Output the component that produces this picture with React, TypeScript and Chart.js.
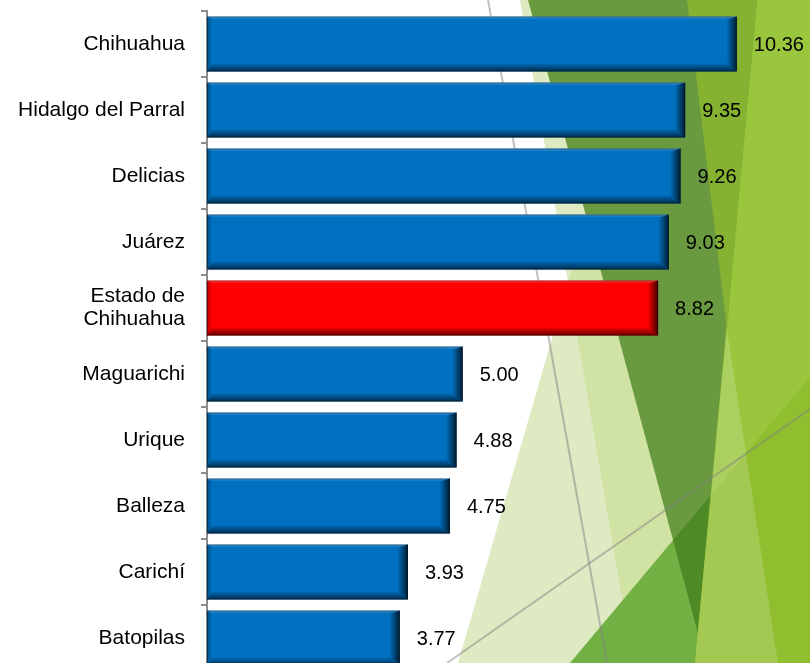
import React, { useEffect, useRef } from "react";
import { Chart, registerables } from "chart.js";

Chart.register(...registerables);

const categories: (string | string[])[] = [
  "Chihuahua",
  "Hidalgo del Parral",
  "Delicias",
  "Juárez",
  ["Estado de", "Chihuahua"],
  "Maguarichi",
  "Urique",
  "Balleza",
  "Carichí",
  "Batopilas",
];
const values: number[] = [10.36, 9.35, 9.26, 9.03, 8.82, 5.0, 4.88, 4.75, 3.93, 3.77];
const highlightIndex = 4;

const FONT = '"Liberation Sans", Arial, Helvetica, sans-serif';

type Pt = [number, number];
function poly(ctx: CanvasRenderingContext2D, pts: Pt[]) {
  ctx.beginPath();
  pts.forEach((p, i) => (i === 0 ? ctx.moveTo(p[0], p[1]) : ctx.lineTo(p[0], p[1])));
  ctx.closePath();
}

const backgroundPlugin = {
  id: "facetBackground",
  beforeDraw(chart: any) {
    const ctx: CanvasRenderingContext2D = chart.ctx;
    ctx.save();
    ctx.fillStyle = "#ffffff";
    ctx.fillRect(0, 0, chart.width, chart.height);
    const P1: Pt[] = [[458, 663], [650, 0], [810, 0], [810, 663]];
    const P2: Pt[] = [[520, 0], [810, 0], [810, 663], [633, 663]];
    const G: Pt[] = [[570, 663], [810, 377], [810, 663]];
    const M: Pt[] = [[528, 0], [810, 0], [810, 663], [706, 663]];
    const B: Pt[] = [[757, 0], [810, 0], [810, 663], [695, 663]];
    const strip: Pt[] = [[727, 330], [695, 663], [778, 663]];
    const olive: Pt[] = [[687, 0], [757, 0], [727, 330]];

    ctx.fillStyle = "#DDEAC2";
    poly(ctx, P1); ctx.fill();
    poly(ctx, P2); ctx.fill();
    ctx.save(); poly(ctx, P1); ctx.clip();
    ctx.fillStyle = "#D0E2A4"; poly(ctx, P2); ctx.fill();
    ctx.restore();

    ctx.fillStyle = "#72B043"; poly(ctx, G); ctx.fill();
    ctx.fillStyle = "#6A9A40"; poly(ctx, M); ctx.fill();
    ctx.save(); poly(ctx, M); ctx.clip();
    ctx.fillStyle = "#4E8A25"; poly(ctx, G); ctx.fill();
    ctx.restore();

    ctx.fillStyle = "#9AC63E"; poly(ctx, B); ctx.fill();
    ctx.save(); poly(ctx, B); ctx.clip();
    ctx.fillStyle = "#8FBE2E"; poly(ctx, G); ctx.fill();
    ctx.restore();
    ctx.fillStyle = "rgba(255,255,255,0.18)"; poly(ctx, strip); ctx.fill();
    ctx.fillStyle = "#86B232"; poly(ctx, olive); ctx.fill();

    ctx.strokeStyle = "rgba(130,130,130,0.5)";
    ctx.lineWidth = 2;
    ctx.beginPath(); ctx.moveTo(488, 0); ctx.lineTo(607, 663); ctx.stroke();
    ctx.beginPath(); ctx.moveTo(447, 663); ctx.lineTo(810, 409); ctx.stroke();
    ctx.restore();
  },
};

const bevelPlugin = {
  id: "bevelBars",
  afterDatasetsDraw(chart: any) {
    const ctx: CanvasRenderingContext2D = chart.ctx;
    const meta = chart.getDatasetMeta(0);
    meta.data.forEach((bar: any, i: number) => {
      const p = bar.getProps(["x", "y", "base", "height"], true);
      const L = Math.min(p.base, p.x);
      const R = Math.max(p.base, p.x);
      const T = p.y - p.height / 2;
      const Bt = p.y + p.height / 2;
      const bw = 10, bb = 8, bl = 5, bt = 3;
      ctx.save();
      let g = ctx.createLinearGradient(R - bw, 0, R, 0);
      g.addColorStop(0, "rgba(0,0,0,0.05)");
      g.addColorStop(1, "rgba(0,0,0,0.75)");
      ctx.fillStyle = g;
      poly(ctx, [[R, T], [R, Bt], [R - bw, Bt - bb], [R - bw, T + bt]]);
      ctx.fill();
      g = ctx.createLinearGradient(0, Bt - bb, 0, Bt);
      g.addColorStop(0, "rgba(0,0,0,0.05)");
      g.addColorStop(1, "rgba(0,0,0,0.6)");
      ctx.fillStyle = g;
      poly(ctx, [[L, Bt], [R, Bt], [R - bw, Bt - bb], [L + bl, Bt - bb]]);
      ctx.fill();
      g = ctx.createLinearGradient(L, 0, L + bl, 0);
      g.addColorStop(0, "rgba(0,0,0,0.3)");
      g.addColorStop(1, "rgba(0,0,0,0)");
      ctx.fillStyle = g;
      poly(ctx, [[L, T], [L, Bt], [L + bl, Bt - bb], [L + bl, T + bt]]);
      ctx.fill();
      g = ctx.createLinearGradient(0, T, 0, T + bt);
      g.addColorStop(0, "rgba(255,255,255,0.3)");
      g.addColorStop(1, "rgba(255,255,255,0)");
      ctx.fillStyle = g;
      poly(ctx, [[L, T], [R, T], [R - bw, T + bt], [L + bl, T + bt]]);
      ctx.fill();
      ctx.strokeStyle = "rgba(0,0,0,0.35)";
      ctx.lineWidth = 1;
      ctx.strokeRect(L + 0.5, T + 0.5, R - L - 1, Bt - T - 1);
      ctx.fillStyle = "#000000";
      ctx.font = `20px ${FONT}`;
      ctx.textAlign = "left";
      ctx.textBaseline = "middle";
      ctx.fillText(values[i].toFixed(2), R + 17, p.y + 1);
      ctx.restore();
    });
  },
};

export default function App() {
  const ref = useRef<HTMLCanvasElement | null>(null);
  useEffect(() => {
    if (!ref.current) return;
    const chart = new Chart(ref.current, {
      type: "bar",
      data: {
        labels: categories as any,
        datasets: [
          {
            data: values,
            backgroundColor: values.map((_, i) => (i === highlightIndex ? "#FF0000" : "#0070C0")),
            borderWidth: 0,
            barPercentage: 0.833,
            categoryPercentage: 1,
          },
        ],
      },
      options: {
        indexAxis: "y",
        responsive: false,
        animation: false,
        devicePixelRatio: 1,
        layout: { padding: { top: 11, bottom: 9, left: 0, right: 0 } },
        plugins: { legend: { display: false }, tooltip: { enabled: false } },
        scales: {
          x: { display: false, min: 0, max: 11.79 },
          y: {
            offset: true,
            grid: {
              display: true,
              drawOnChartArea: false,
              drawTicks: true,
              tickLength: 6,
              color: "#8c8c8c",
              lineWidth: 2,
              offset: true,
            },
            border: { display: true, color: "#8c8c8c", width: 2 },
            ticks: {
              color: "#000000",
              autoSkip: false,
              padding: 16,
              font: { family: FONT, size: 21, lineHeight: 1.1 },
            },
            afterFit: (s: any) => {
              s.width = 207;
              s.paddingTop = 0;
              s.paddingBottom = 0;
            },
          },
        },
      },
      plugins: [backgroundPlugin, bevelPlugin],
    });
    return () => chart.destroy();
  }, []);
  return (
    <div
      style={{
        position: "fixed",
        left: 0,
        top: 0,
        width: 810,
        height: 663,
        overflow: "hidden",
        background: "#fff",
      }}
    >
      <canvas ref={ref} width={810} height={680} style={{ display: "block" }} />
    </div>
  );
}
